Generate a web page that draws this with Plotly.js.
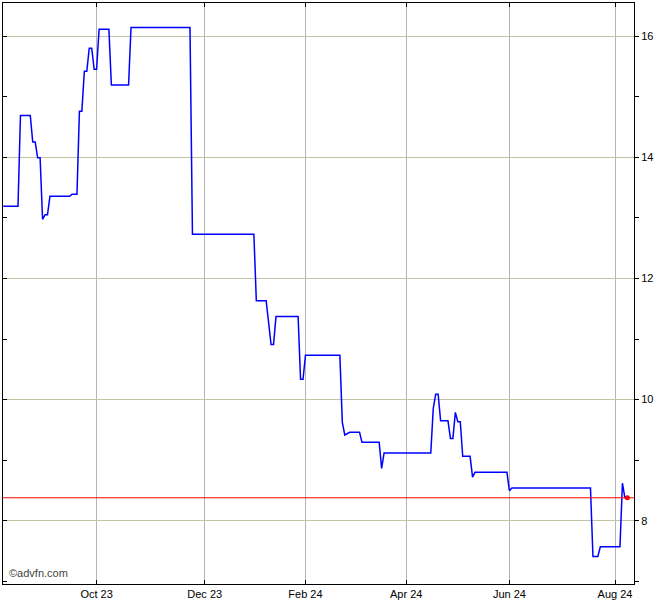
<!DOCTYPE html>
<html>
<head>
<meta charset="utf-8">
<script src="https://cdn.plot.ly/plotly-3.0.1.min.js"></script>
<style>html,body{margin:0;padding:0;background:#fff;}#chart{width:670px;height:600px;}</style>
</head>
<body>
<div id="chart"></div>
<script>
// Trading days (change points of the daily close series)
const dates = [
  '2023-08-08','2023-08-16','2023-08-17','2023-08-23','2023-08-24','2023-08-25',
  '2023-08-29','2023-08-30','2023-08-31','2023-09-01','2023-09-04','2023-09-05',
  '2023-09-15','2023-09-18','2023-09-20','2023-09-21','2023-09-22','2023-09-25',
  '2023-09-26','2023-09-27','2023-09-28','2023-09-29','2023-10-02','2023-10-03',
  '2023-10-09','2023-10-10','2023-10-19','2023-10-20','2023-11-23','2023-11-24',
  '2024-01-03','2024-01-04','2024-01-10','2024-01-12','2024-01-15','2024-01-16',
  '2024-01-29','2024-01-30','2024-01-31','2024-02-01','2024-02-21','2024-02-22',
  '2024-02-23','2024-02-27','2024-03-04','2024-03-05','2024-03-14','2024-03-15',
  '2024-03-18','2024-04-16','2024-04-17','2024-04-18','2024-04-19','2024-04-22',
  '2024-04-25','2024-04-26','2024-04-29','2024-04-30','2024-05-01','2024-05-02',
  '2024-05-03','2024-05-09','2024-05-10','2024-05-13','2024-05-31','2024-06-03',
  '2024-06-04','2024-07-18','2024-07-19','2024-07-23','2024-07-24','2024-08-05',
  '2024-08-06','2024-08-07','2024-08-08'
];
const prices = [
  13.19,13.19,14.69,14.69,14.25,14.25,
  13.99,13.99,12.975,13.05,13.05,13.355,
  13.355,13.39,13.39,14.76,14.76,15.42,
  15.42,15.80,15.80,15.45,15.45,16.11,
  16.11,15.19,15.19,16.14,16.14,12.73,
  12.73,11.63,11.63,10.91,10.91,11.37,
  11.37,10.335,10.335,10.73,10.73,9.625,
  9.416,9.46,9.46,9.295,9.295,8.866,
  9.12,9.12,9.85,10.09,10.09,9.65,
  9.65,9.36,9.36,9.79,9.635,9.635,
  9.064,9.064,8.72,8.80,8.80,8.497,
  8.54,8.54,7.41,7.41,7.57,7.57,
  8.62,8.38,8.38
];
// UK market holidays (removed from the trading-day axis)
const holidays = ['2023-08-28','2023-12-25','2023-12-26','2024-01-01','2024-03-29','2024-04-01','2024-05-06','2024-05-27'];
const tickDates = ['2023-10-02','2023-12-01','2024-02-01','2024-04-02','2024-06-03','2024-08-01'];
const tickLabels = ['Oct 23','Dec 23','Feb 24','Apr 24','Jun 24','Aug 24'];
const yTicks = [8,10,12,14,16];

const lastDate = dates[dates.length-1];
const lastPrice = prices[prices.length-1];
const yRange = [6.957, 16.545];
const xRange = ['2023-08-07 21:30','2024-08-12 17:00'];

const font = {family:'Liberation Sans, Arial, sans-serif', size:11, color:'#000'};

const traces = [
  {x:dates, y:prices, type:'scatter', mode:'lines', line:{color:'#0000ff', width:1.5}, hoverinfo:'skip'},
  {x:[lastDate], y:[lastPrice], type:'scatter', mode:'markers', marker:{color:'#ff0000', size:5}, yaxis:'y2', hoverinfo:'skip'}
];

const layout = {
  width:670, height:600,
  margin:{l:3, r:36, t:3, b:16, pad:0},
  paper_bgcolor:'#ffffff', plot_bgcolor:'#ffffff',
  showlegend:false,
  font:font,
  xaxis:{
    type:'date', range:xRange,
    rangebreaks:[{pattern:'day of week', bounds:[6,1]}, {values:holidays}],
    tickmode:'array', tickvals:tickDates, ticktext:tickLabels,
    ticks:'inside', ticklen:4, tickcolor:'#000', tickwidth:1,
    showgrid:true, gridcolor:'#b4b4b4', gridwidth:1,
    showline:true, linecolor:'#000', linewidth:1, mirror:'ticks',
    zeroline:false, tickfont:font, fixedrange:true
  },
  yaxis:{
    range:yRange, side:'right',
    tickmode:'array', tickvals:yTicks,
    ticks:'outside', ticklen:4, tickcolor:'#000',
    minor:{ticks:'outside', ticklen:4, tickcolor:'#000', dtick:1, tick0:0, showgrid:false},
    showgrid:true, gridcolor:'#c2c2a4', gridwidth:1,
    showline:true, linecolor:'#000', linewidth:1, mirror:true,
    zeroline:false, tickfont:font, fixedrange:true
  },
  yaxis2:{
    range:yRange, overlaying:'y', side:'left',
    tickmode:'array', tickvals:yTicks,
    ticks:'inside', ticklen:4, tickcolor:'#000',
    minor:{ticks:'inside', ticklen:4, tickcolor:'#000', dtick:1, tick0:0, showgrid:false},
    showticklabels:false, showgrid:false, showline:false, zeroline:false, fixedrange:true
  },
  shapes:[
    {type:'line', xref:'paper', x0:0, x1:1, yref:'y', y0:lastPrice, y1:lastPrice, line:{color:'#ff0000', width:1}, layer:'above'}
  ],
  annotations:[
    {text:'©advfn.com', xref:'paper', yref:'paper', x:0.006, y:0.005, xanchor:'left', yanchor:'bottom', showarrow:false,
     font:{family:'Liberation Sans, Arial, sans-serif', size:11, color:'#444'}}
  ]
};

Plotly.newPlot('chart', traces, layout, {displayModeBar:false, staticPlot:true});
</script>
</body>
</html>
